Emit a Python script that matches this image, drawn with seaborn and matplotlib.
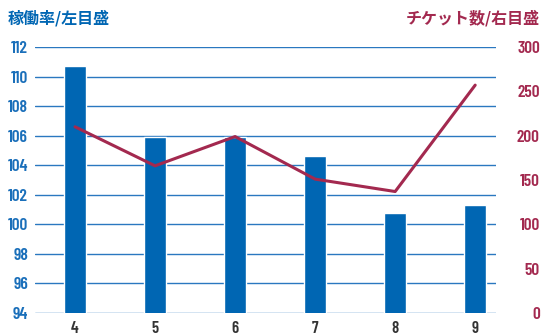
import matplotlib
matplotlib.use('Agg')
import matplotlib.pyplot as plt
import seaborn as sns
import pandas as pd

# data
months = ['4', '5', '6', '7', '8', '9']
utilization = [110.7, 105.9, 105.9, 104.6, 100.8, 101.3]   # left axis, bars
tickets = [210, 166, 199, 151, 137, 257]                    # right axis, line

left_ticks = list(range(94, 113, 2))
right_ticks = list(range(0, 301, 50))

BLUE = '#0066b3'
GRID = '#2a78c0'
RED = '#a3294f'
TICKFONT = ['Barlow Condensed', 'DejaVu Sans']

df = pd.DataFrame({'month': months, 'util': utilization, 'tickets': tickets})

sns.set_style('white')
plt.rcParams['font.family'] = ['Noto Sans CJK JP', 'DejaVu Sans']

fig = plt.figure(figsize=(5.41, 3.35), dpi=100)
ax = fig.add_axes([35 / 541, 1 - 313 / 335, (496 - 35) / 541, (313 - 47) / 335])

sns.barplot(data=df, x='month', y='util', color=BLUE, width=0.28,
            saturation=1, ax=ax, zorder=3)
ax.set_ylim(94, 112)
ax.set_yticks(left_ticks)
for y in left_ticks:
    ax.axhline(y, color=GRID, lw=1.0, zorder=1)

ax2 = ax.twinx()
sns.lineplot(data=df, x='month', y='tickets', color=RED, lw=2.2, ax=ax2,
             zorder=4)
ax2.set_ylim(0, 300)
ax2.set_yticks(right_ticks)
ax.set_xlim(-0.5, 5.26)

for a in (ax, ax2):
    for s in a.spines.values():
        s.set_visible(False)
    a.set_xlabel('')
    a.set_ylabel('')

ax.tick_params(axis='y', length=0, pad=5, colors='#1a6fba', labelsize=12.5)
ax.tick_params(axis='x', length=0, pad=6, colors='#333333', labelsize=12)
ax2.tick_params(axis='y', length=0, pad=31.5, colors=RED, labelsize=12.5)
for lab in ax.get_yticklabels() + ax.get_xticklabels() + ax2.get_yticklabels():
    lab.set_family(TICKFONT)
    lab.set_fontweight(600)
for lab in ax2.get_yticklabels():
    lab.set_horizontalalignment('right')

fig.text(8 / 541, 1 - 18 / 335, '稼働率/左目盛', color=BLUE, fontsize=11.5,
         fontweight='bold', ha='left', va='center')
fig.text(540 / 541, 1 - 18 / 335, 'チケット数/右目盛', color=RED, fontsize=11.5,
         fontweight='bold', ha='right', va='center')

fig.savefig('out.png', dpi=100)
